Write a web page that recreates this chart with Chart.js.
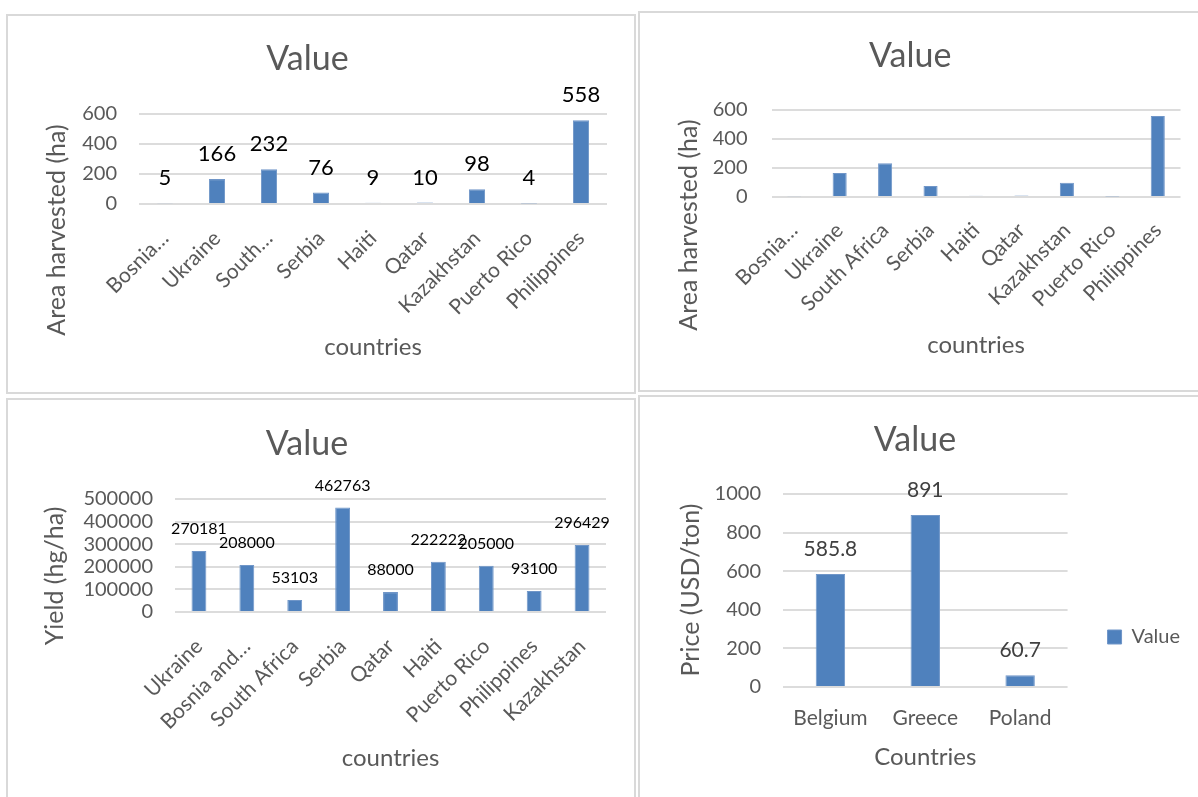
<!DOCTYPE html>
<html>
<head>
<meta charset="utf-8">
<script src="https://cdn.jsdelivr.net/npm/chart.js@4.4.0/dist/chart.umd.min.js"></script>
<style>
  body { margin: 0; width: 1198px; height: 797px; overflow: hidden; background: #fff; position: relative; }
  .panel { position: absolute; border: 2px solid #d9d9d9; box-sizing: border-box; background: #fff; overflow: hidden; }
  .panel canvas { position: absolute; left: 0; top: 0; }
  #pA { left: 6px; top: 14px; width: 630px; height: 380px; }
  #pB { left: 638px; top: 11px; width: 574px; height: 381px; }
  #pC { left: 6px; top: 398px; width: 630px; height: 401px; }
  #pD { left: 638px; top: 395px; width: 574px; height: 404px; }
</style>
</head>
<body>
<div class="panel" id="pA"><canvas id="chartA" width="626" height="376"></canvas></div>
<div class="panel" id="pB"><canvas id="chartB" width="570" height="377"></canvas></div>
<div class="panel" id="pC"><canvas id="chartC" width="626" height="397"></canvas></div>
<div class="panel" id="pD"><canvas id="chartD" width="570" height="400"></canvas></div>

<script>
// --- data ---
const areaLabelsShort = ['Bosnia…', 'Ukraine', 'South…', 'Serbia', 'Haiti', 'Qatar', 'Kazakhstan', 'Puerto Rico', 'Philippines'];
const areaLabels = ['Bosnia…', 'Ukraine', 'South Africa', 'Serbia', 'Haiti', 'Qatar', 'Kazakhstan', 'Puerto Rico', 'Philippines'];
const areaValues = [5, 166, 232, 76, 9, 10, 98, 4, 558];
const areaTicks = [0, 200, 400, 600];

const yieldLabels = ['Ukraine', 'Bosnia and…', 'South Africa', 'Serbia', 'Qatar', 'Haiti', 'Puerto Rico', 'Philippines', 'Kazakhstan'];
const yieldValues = [270181, 208000, 53103, 462763, 88000, 222222, 205000, 93100, 296429];
const yieldTicks = [0, 100000, 200000, 300000, 400000, 500000];

const priceLabels = ['Belgium', 'Greece', 'Poland'];
const priceValues = [585.8, 891, 60.7];
const priceTicks = [0, 200, 400, 600, 800, 1000];

// --- styling ---
const FONT = 'Lato, "Open Sans", sans-serif';
const GREY = '#595959';
const BLUE = '#4f81bd';
const BLUE_EDGE = '#7096c8';

// rotated y axis title (Excel centres it on the whole chart, not the plot)
const yTitlePlugin = {
  id: 'yTitle',
  afterDraw(chart, args, opts) {
    const ctx = chart.ctx;
    ctx.save();
    ctx.translate(opts.x, opts.y);
    ctx.rotate(-Math.PI / 2);
    ctx.font = `${opts.size || 25}px ${FONT}`;
    ctx.fillStyle = GREY;
    ctx.textAlign = 'center';
    ctx.textBaseline = 'middle';
    ctx.fillText(opts.text, 0, 0);
    ctx.restore();
  }
};

// value labels above each bar
const valueLabelPlugin = {
  id: 'valueLabels',
  afterDatasetsDraw(chart, args, opts) {
    if (!opts.show) return;
    const ctx = chart.ctx;
    const meta = chart.getDatasetMeta(0);
    const data = chart.data.datasets[0].data;
    ctx.save();
    ctx.font = `${opts.size}px ${FONT}`;
    ctx.fillStyle = opts.color;
    ctx.textAlign = 'center';
    ctx.textBaseline = 'middle';
    meta.data.forEach((bar, i) => {
      ctx.fillText(String(data[i]), bar.x, bar.y - opts.offset);
    });
    ctx.restore();
  }
};

function barChart(id, o) {
  return new Chart(document.getElementById(id), {
    type: 'bar',
    data: {
      labels: o.labels,
      datasets: [{
        label: 'Value',
        data: o.values,
        backgroundColor: BLUE,
        borderColor: BLUE_EDGE,
        borderWidth: 1,
        barPercentage: 0.31,
        categoryPercentage: 1
      }]
    },
    options: {
      responsive: false,
      animation: false,
      layout: { padding: { left: 0, right: o.padRight, top: 0, bottom: 0 } },
      plugins: {
        legend: o.legend || { display: false },
        tooltip: { enabled: false },
        title: {
          display: true, text: 'Value', color: GREY,
          font: { family: FONT, size: 34, weight: 'normal' },
          padding: { top: o.titleTop, bottom: o.titleBottom }
        },
        yTitle: { text: o.yTitle, x: o.yTitleX, y: o.yTitleY },
        valueLabels: o.valueLabels || { show: false }
      },
      scales: {
        x: {
          grid: { display: false, drawTicks: false },
          border: { display: false },
          ticks: {
            color: GREY, font: { family: FONT, size: o.xTickSize },
            minRotation: o.rot, maxRotation: o.rot, padding: o.xTickPad, autoSkip: false
          },
          title: {
            display: true, text: o.xTitle, color: GREY,
            font: { family: FONT, size: 24 },
            padding: { top: 0, bottom: o.xTitleBottom }
          },
          afterFit: s => { s.height = o.xHeight; }
        },
        y: {
          min: o.ticks[0],
          max: o.ticks[o.ticks.length - 1],
          grid: { color: '#dcdcdc', lineWidth: 2, drawTicks: false },
          border: { display: false },
          ticks: {
            color: GREY, font: { family: FONT, size: 20 }, padding: o.yTickPad,
            autoSkip: false,
            callback: v => String(v)
          },
          afterBuildTicks: s => { s.ticks = o.ticks.map(v => ({ value: v })); },
          afterFit: s => { s.width = o.yWidth; }
        }
      }
    },
    plugins: [yTitlePlugin, valueLabelPlugin]
  });
}

document.addEventListener('DOMContentLoaded', () => {
  // top left
  barChart('chartA', {
    labels: areaLabelsShort, values: areaValues, ticks: areaTicks,
    padRight: 27, yWidth: 131, xHeight: 188,
    titleTop: 22.6, titleBottom: 34.6,
    rot: 45, xTickSize: 21, xTickPad: 22, yTickPad: 22,
    xTitle: 'countries', xTitleBottom: 30.6,
    yTitle: 'Area harvested (ha)', yTitleX: 49, yTitleY: 214,
    valueLabels: { show: true, size: 22, color: '#000', offset: 25 }
  });

  // top right
  barChart('chartB', {
    labels: areaLabels, values: areaValues, ticks: areaTicks,
    padRight: 29.5, yWidth: 131.5, xHeight: 193,
    titleTop: 22.6, titleBottom: 33.6,
    rot: 45, xTickSize: 21, xTickPad: 21, yTickPad: 24,
    xTitle: 'countries', xTitleBottom: 30.6,
    yTitle: 'Area harvested (ha)', yTitleX: 49, yTitleY: 212
  });

  // bottom left
  barChart('chartC', {
    labels: yieldLabels, values: yieldValues, ticks: yieldTicks,
    padRight: 28, yWidth: 167, xHeight: 185,
    titleTop: 23.6, titleBottom: 34.6,
    rot: 45, xTickSize: 21, xTickPad: 22, yTickPad: 22,
    xTitle: 'countries', xTitleBottom: 24.6,
    yTitle: 'Yield (hg/ha)', yTitleX: 47, yTitleY: 176,
    valueLabels: { show: true, size: 16, color: '#000', offset: 22 }
  });

  // bottom right
  barChart('chartD', {
    labels: priceLabels, values: priceValues, ticks: priceTicks,
    padRight: 20, yWidth: 143, xHeight: 110,
    titleTop: 22.6, titleBottom: 33.6,
    rot: 0, xTickSize: 21, xTickPad: 19, yTickPad: 22,
    xTitle: 'Countries', xTitleBottom: 25.6,
    yTitle: 'Price (USD/ton)', yTitleX: 51, yTitleY: 193,
    valueLabels: { show: true, size: 21, color: '#404040', offset: 25 },
    legend: {
      display: true, position: 'right', align: 'end', fullSize: false,
      labels: { boxWidth: 14, boxHeight: 14, padding: 40, color: GREY, font: { family: FONT, size: 20 } }
    }
  });
});
</script>
</body>
</html>
